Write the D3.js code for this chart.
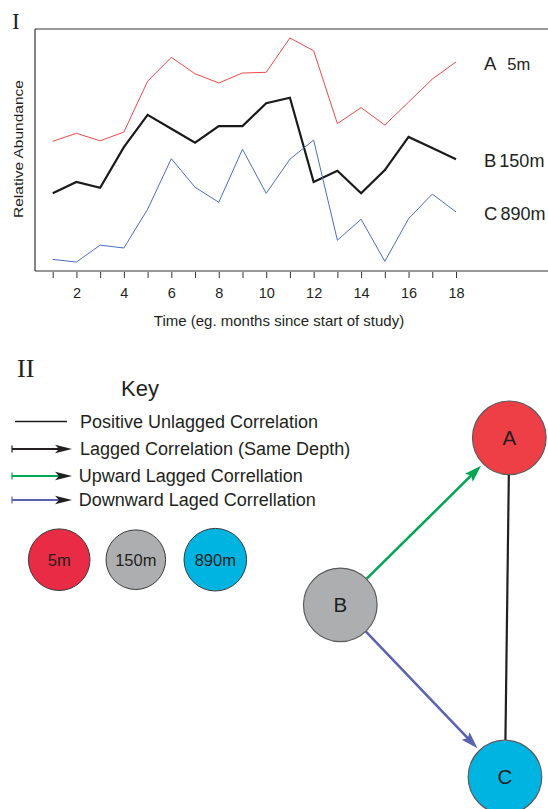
<!DOCTYPE html>
<html>
<head>
<meta charset="utf-8">
<script src="https://cdn.jsdelivr.net/npm/d3@7"></script>
<style>
  html, body { margin: 0; padding: 0; background: #fff; }
  svg { display: block; }
  text { font-family: "Liberation Sans", Arial, sans-serif; fill: #231f20; }
  .serif { font-family: "Liberation Serif", "Times New Roman", serif; }
</style>
</head>
<body>
<script>
// ---------- DATA ----------
const months = [1,2,3,4,5,6,7,8,9,10,11,12,13,14,15,16,17,18];
const tickLabels = months.map(m => (m % 2 === 0 ? String(m) : ""));
const seriesA = [53.6,56.9,53.8,57.4,78.4,88.3,81.5,77.7,81.8,82.1,96.3,91.0,60.9,67.5,60.3,69.8,79.3,86.4];
const seriesB = [32.1,36.8,34.4,51.2,64.5,58.8,53.0,59.9,59.9,69.3,71.6,36.8,41.4,32.1,41.7,55.4,50.8,46.2];
const seriesC = [4.8,3.7,10.7,9.5,25.5,46.4,34.6,28.4,50.3,32.1,46.2,54.1,12.7,21.4,4.0,21.6,31.8,24.4];
const seriesNames = ["A", "B", "C"];
const seriesDepths = ["5m", "150m", "890m"];

const keyItems = ["Positive Unlagged Correlation", "Lagged Correlation (Same Depth)", "Upward Lagged Correllation", "Downward Laged Correllation"];
const keyTypes = ["unlagged", "lagged", "upward", "downward"];

const nodeIds = ["A", "B", "C"];
const nodeCol = [1.012, 0, 0.986];
const nodeRow = [0, 0.985, 2];
const edges = [
  {source: "B", target: "A", type: "upward"},
  {source: "B", target: "C", type: "downward"},
  {source: "A", target: "C", type: "unlagged"}
];

// ---------- STYLE ----------
const W = 548, H = 809;
const depthFill = {"5m": "#e92b45", "150m": "#adaeb0", "890m": "#00b4e2"};
const nodeFill = {"A": "#ee3e46", "B": "#adaeb0", "C": "#00b4e2"};
const lineColor = {"A": "#f04848", "B": "#1a1a1a", "C": "#4a6dc4"};
const lineWidth = {"A": 1, "B": 2.2, "C": 1};
const edgeColor = {unlagged: "#231f20", lagged: "#231f20", upward: "#00a651", downward: "#5b62b0"};

const svg = d3.select("body").append("svg").attr("width", W).attr("height", H);

// ---------- PANEL I ----------
const plotL = 35, plotT = 29, plotB = 271;
const x = d3.scaleLinear().domain([1, 18]).range([52.7, 456]);
const y = d3.scaleLinear().domain([0, 100]).range([plotB, plotT]);

svg.append("text").attr("class", "serif").attr("x", 12).attr("y", 29)
  .attr("font-size", 23).text("I");

// frame
svg.append("line").attr("x1", plotL).attr("x2", W).attr("y1", plotT).attr("y2", plotT)
  .attr("stroke", "#777").attr("stroke-width", 1.3);
svg.append("line").attr("x1", plotL).attr("x2", plotL).attr("y1", plotT).attr("y2", plotB)
  .attr("stroke", "#333").attr("stroke-width", 1.2);
svg.append("line").attr("x1", plotL).attr("x2", W).attr("y1", plotB).attr("y2", plotB)
  .attr("stroke", "#333").attr("stroke-width", 1.2);

const xAxis = d3.axisBottom(x).tickValues(months)
  .tickFormat((d, i) => tickLabels[i]).tickSize(6).tickPadding(10).tickSizeOuter(0);
const gx = svg.append("g").attr("transform", `translate(0,${plotB + 1})`).call(xAxis);
gx.select(".domain").remove();
gx.selectAll(".tick line").attr("stroke", "#333");
gx.selectAll(".tick text").attr("font-size", 14.5)
  .attr("font-family", '"Liberation Sans", Arial, sans-serif').attr("fill", "#231f20");

svg.append("text").attr("x", 279).attr("y", 326).attr("text-anchor", "middle")
  .attr("font-size", 15).text("Time (eg. months since start of study)");

svg.append("text").attr("transform", "translate(22.5,149) rotate(-90)")
  .attr("text-anchor", "middle").attr("font-size", 13.5)
  .attr("textLength", 138).attr("lengthAdjust", "spacingAndGlyphs")
  .text("Relative Abundance");

const allSeries = [seriesA, seriesB, seriesC];
const line = d3.line().x((d, i) => x(months[i])).y(d => y(d));
allSeries.forEach((s, k) => {
  const name = seriesNames[k];
  svg.append("path").datum(s).attr("d", line).attr("fill", "none")
    .attr("stroke", lineColor[name]).attr("stroke-width", lineWidth[name])
    .attr("stroke-linejoin", "miter");
});
const labelBase = [70, 166.5, 219.5];
seriesNames.forEach((n, k) => {
  const t = svg.append("text").attr("x", 484).attr("y", labelBase[k]).attr("font-size", 18.5);
  t.append("tspan").text(n);
  t.append("tspan").attr("dx", k === 0 ? 11 : 3).attr("font-size", k === 0 ? 16.5 : 18)
    .text(seriesDepths[k]);
});

// ---------- PANEL II ----------
svg.append("text").attr("class", "serif").attr("x", 17).attr("y", 377)
  .attr("font-size", 26).text("II");
svg.append("text").attr("x", 121).attr("y", 396).attr("font-size", 22).text("Key");

function headPath(tx, ty, ang, len, half, notch) {
  const c = Math.cos(ang), s = Math.sin(ang);
  const p = (u, v) => [tx - u * c - v * s, ty - u * s + v * c];
  const a = p(len, -half), b = p(len - notch, 0), d = p(len, half);
  return `M${tx},${ty}L${a[0]},${a[1]}L${b[0]},${b[1]}L${d[0]},${d[1]}Z`;
}

const keyY = [421.5, 449, 476, 500];
const keyTextY = [428.3, 455, 481.7, 505.7];
const keyTextX = [80, 80, 78.7, 78.7];
keyItems.forEach((label, i) => {
  const type = keyTypes[i];
  const g = svg.append("g");
  if (type === "unlagged") {
    g.append("line").attr("x1", 15).attr("x2", 67).attr("y1", keyY[i]).attr("y2", keyY[i])
      .attr("stroke", edgeColor[type]).attr("stroke-width", 1.5);
  } else {
    g.append("line").attr("x1", 12).attr("x2", 12).attr("y1", keyY[i] - 3.5).attr("y2", keyY[i] + 3.5)
      .attr("stroke", edgeColor[type]).attr("stroke-width", 1.2);
    g.append("line").attr("x1", 12).attr("x2", 60).attr("y1", keyY[i]).attr("y2", keyY[i])
      .attr("stroke", edgeColor[type]).attr("stroke-width", 1.8);
    g.append("path").attr("d", headPath(72, keyY[i], 0, 17, 4.3, 4)).attr("fill", "#231f20");
  }
  g.append("text").attr("x", keyTextX[i]).attr("y", keyTextY[i]).attr("font-size", 18).text(label);
});

// key circles
const keyCx = [59.2, 135.8, 215.3];
const keyR = [30.8, 29.8, 31.3];
seriesDepths.forEach((dep, i) => {
  svg.append("circle").attr("cx", keyCx[i]).attr("cy", 559.7).attr("r", keyR[i])
    .attr("fill", depthFill[dep]).attr("stroke", "#3a3a3a").attr("stroke-width", 1);
  svg.append("text").attr("x", keyCx[i]).attr("y", 565.8).attr("text-anchor", "middle")
    .attr("font-size", 16.5).text(dep);
});

// network
const gx2 = d3.scaleLinear().domain([0, 1]).range([340.3, 507.3]);
const gy2 = d3.scaleLinear().domain([0, 2]).range([437.8, 777]);
const nodeR = 36.8;
const nodes = nodeIds.map((id, i) => ({id, x: gx2(nodeCol[i]), y: gy2(nodeRow[i])}));
const byId = Object.fromEntries(nodes.map(n => [n.id, n]));

edges.forEach(e => {
  const s = byId[e.source], t = byId[e.target];
  const ang = Math.atan2(t.y - s.y, t.x - s.x);
  const x1 = s.x + Math.cos(ang) * nodeR, y1 = s.y + Math.sin(ang) * nodeR;
  if (e.type === "unlagged") {
    const x2 = t.x - Math.cos(ang) * nodeR, y2 = t.y - Math.sin(ang) * nodeR;
    svg.append("line").attr("x1", x1).attr("y1", y1).attr("x2", x2).attr("y2", y2)
      .attr("stroke", edgeColor[e.type]).attr("stroke-width", 2.2);
  } else {
    const gap = 3;
    const tx = t.x - Math.cos(ang) * (nodeR + gap), ty = t.y - Math.sin(ang) * (nodeR + gap);
    const lx = tx - Math.cos(ang) * 12, ly = ty - Math.sin(ang) * 12;
    svg.append("line").attr("x1", x1).attr("y1", y1).attr("x2", lx).attr("y2", ly)
      .attr("stroke", edgeColor[e.type]).attr("stroke-width", 2.5);
    svg.append("path").attr("d", headPath(tx, ty, ang, 17, 5.5, 3)).attr("fill", edgeColor[e.type]);
  }
});

nodes.forEach(n => {
  svg.append("circle").attr("cx", n.x).attr("cy", n.y).attr("r", nodeR)
    .attr("fill", nodeFill[n.id]).attr("stroke", "#5a5a5a").attr("stroke-width", 1.2);
  svg.append("text").attr("x", n.x).attr("y", n.y + 7.3).attr("text-anchor", "middle")
    .attr("font-size", 20.5).text(n.id);
});
</script>
</body>
</html>
